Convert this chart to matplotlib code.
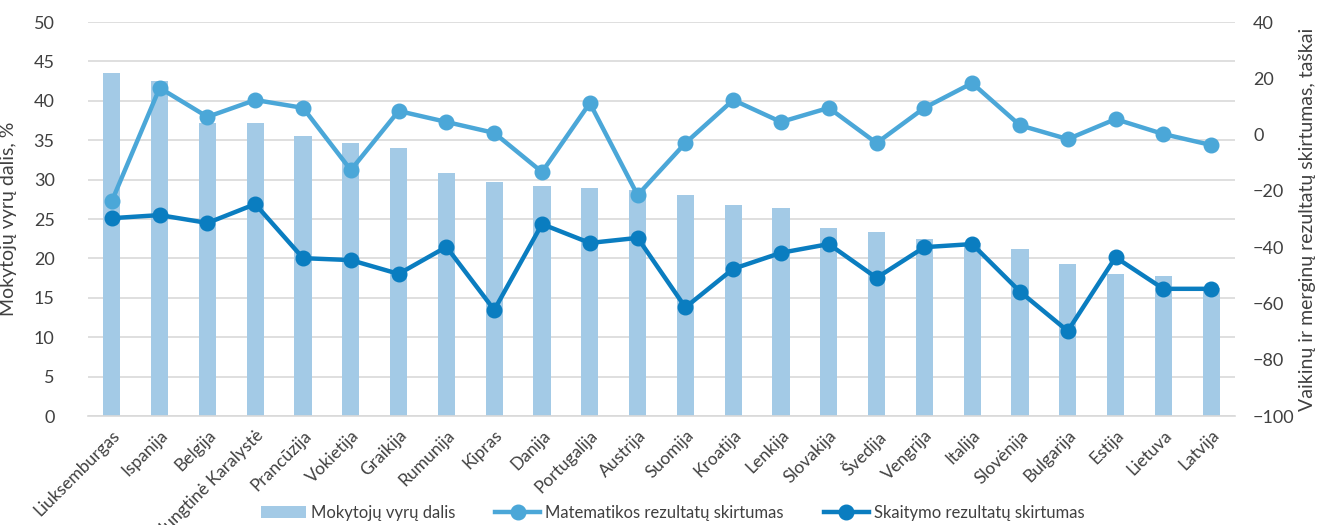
import matplotlib.pyplot as plt
import numpy as np

plt.rcParams["font.family"] = ["Lato", "DejaVu Sans"]

countries = ["Liuksemburgas", "Ispanija", "Belgija", "Jungtinė Karalystė", "Prancūzija",
             "Vokietija", "Graikija", "Rumunija", "Kipras", "Danija", "Portugalija",
             "Austrija", "Suomija", "Kroatija", "Lenkija", "Slovakija", "Švedija",
             "Vengrija", "Italija", "Slovėnija", "Bulgarija", "Estija", "Lietuva", "Latvija"]

male_teachers = [43.5, 42.5, 37.2, 37.2, 35.5, 34.6, 34.0, 30.8, 29.7, 29.2, 28.9, 28.7,
                 28.0, 26.8, 26.4, 23.9, 23.4, 22.5, 22.0, 21.2, 19.3, 18.0, 17.8, 16.2]

math_gap = [-23.6, 16.6, 6.3, 12.3, 9.5, -12.6, 8.4, 4.5, 0.6, -13.3, 11.2, -21.5,
            -3.0, 12.3, 4.5, 9.5, -3.0, 9.5, 18.3, 3.3, -1.6, 5.5, 0.2, -3.7]

reading_gap = [-29.7, -28.6, -31.4, -24.7, -43.9, -44.6, -49.5, -39.9, -62.3, -31.8, -38.5, -36.7,
               -61.4, -47.7, -42.0, -38.9, -50.9, -40.0, -38.9, -55.8, -69.8, -43.6, -54.8, -54.8]

bar_color = "#A3CAE6"
math_color = "#4BA7D8"
read_color = "#0A7DC0"
text_color = "#404040"

fig = plt.figure(figsize=(13.27, 5.25), dpi=100)
ax = fig.add_axes([0.0663, 0.2076, 0.8644, 0.7504])
x = np.arange(len(countries))

bars = ax.bar(x, male_teachers, width=0.36, color=bar_color, zorder=2,
              label="Mokytojų vyrų dalis")
ax.set_ylim(0, 50)
ax.set_yticks(np.arange(0, 51, 5))
ax.set_xlim(-0.5, len(countries) - 0.5)
ax.grid(axis="y", color="#D9D9D9", linewidth=1.2, zorder=0)
for s in ["top", "right", "left"]:
    ax.spines[s].set_visible(False)
ax.spines["bottom"].set_color("#D9D9D9")
ax.spines["bottom"].set_linewidth(1.2)
ax.tick_params(axis="both", length=0, labelsize=13, colors=text_color)
ax.tick_params(axis="y", pad=24)
ax.set_xticks(x)
ax.set_xticklabels(countries, rotation=45, ha="right", rotation_mode="anchor", fontsize=12.5)
ax.tick_params(axis="x", pad=8)
ax.set_ylabel("Mokytojų vyrų dalis, %", fontsize=14, color=text_color)
ax.yaxis.set_label_coords(-0.062, 0.5)

ax2 = ax.twinx()
ax2.set_ylim(-100, 40)
ax2.set_yticks(np.arange(-100, 41, 20))
for s in ax2.spines.values():
    s.set_visible(False)
ax2.tick_params(axis="y", length=0, labelsize=13, colors=text_color, pad=13)
l1, = ax2.plot(x, math_gap, color=math_color, linewidth=3.2, marker="o", markersize=10.5,
               label="Matematikos rezultatų skirtumas", zorder=3)
l2, = ax2.plot(x, reading_gap, color=read_color, linewidth=3.2, marker="o", markersize=10.5,
               label="Skaitymo rezultatų skirtumas", zorder=3)
ax2.set_ylabel("Vaikinų ir merginų rezultatų skirtumas, taškai", fontsize=14,
               color=text_color)
ax2.yaxis.set_label_coords(1.056, 0.5)

fig.legend(handles=[bars, l1, l2], loc="center", bbox_to_anchor=(0.507, 0.023), ncol=3,
           frameon=False, fontsize=12, columnspacing=2.4, handlelength=2.7,
           handletextpad=0.3, labelcolor=text_color)

fig.savefig("out.png", dpi=100)
